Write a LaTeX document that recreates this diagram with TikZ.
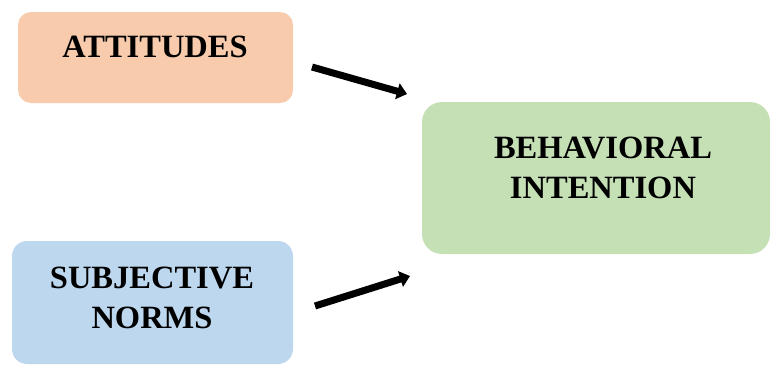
\documentclass[tikz,border=0pt]{standalone}
\usepackage{fontspec}
\setmainfont{Liberation Serif}
\usetikzlibrary{arrows.meta}
\definecolor{attfill}{HTML}{F8CBAD}
\definecolor{snfill}{HTML}{BDD7EE}
\definecolor{bifill}{HTML}{C5E0B4}
\begin{document}
\begin{tikzpicture}[x=1pt,y=-1pt,
  box/.style={draw=none, inner sep=0pt, outer sep=0pt},
  lbl/.style={font=\fontsize{32.5}{40}\selectfont\bfseries, align=center, inner sep=0pt, anchor=base},
  arr/.style={line width=7pt, -{Triangle[length=10pt,width=16pt]}}]
\useasboundingbox (0,0) rectangle (771,365);
\node[box, fill=attfill, rounded corners=13pt, minimum width=275pt, minimum height=91pt] (att) at (155.5,57.5) {};
\node[box, fill=bifill, rounded corners=20pt, minimum width=348pt, minimum height=152pt] (bi) at (596,178) {};
\node[box, fill=snfill, rounded corners=15pt, minimum width=281pt, minimum height=123pt] (sn) at (152.5,302.5) {};
\node[lbl] (attt) at (155,57) {ATTITUDES};
\node[lbl] (bit) at (603,198) {BEHAVIORAL\\INTENTION};
\node[lbl] (snt) at (152,328) {SUBJECTIVE\\NORMS};
\coordinate (a1s) at (312,67);
\coordinate (a1e) at (407,94);
\coordinate (a2s) at (315,306);
\coordinate (a2e) at (410,276);
\draw[arr] (a1s) -- (a1e);
\draw[arr] (a2s) -- (a2e);
\end{tikzpicture}
\end{document}
